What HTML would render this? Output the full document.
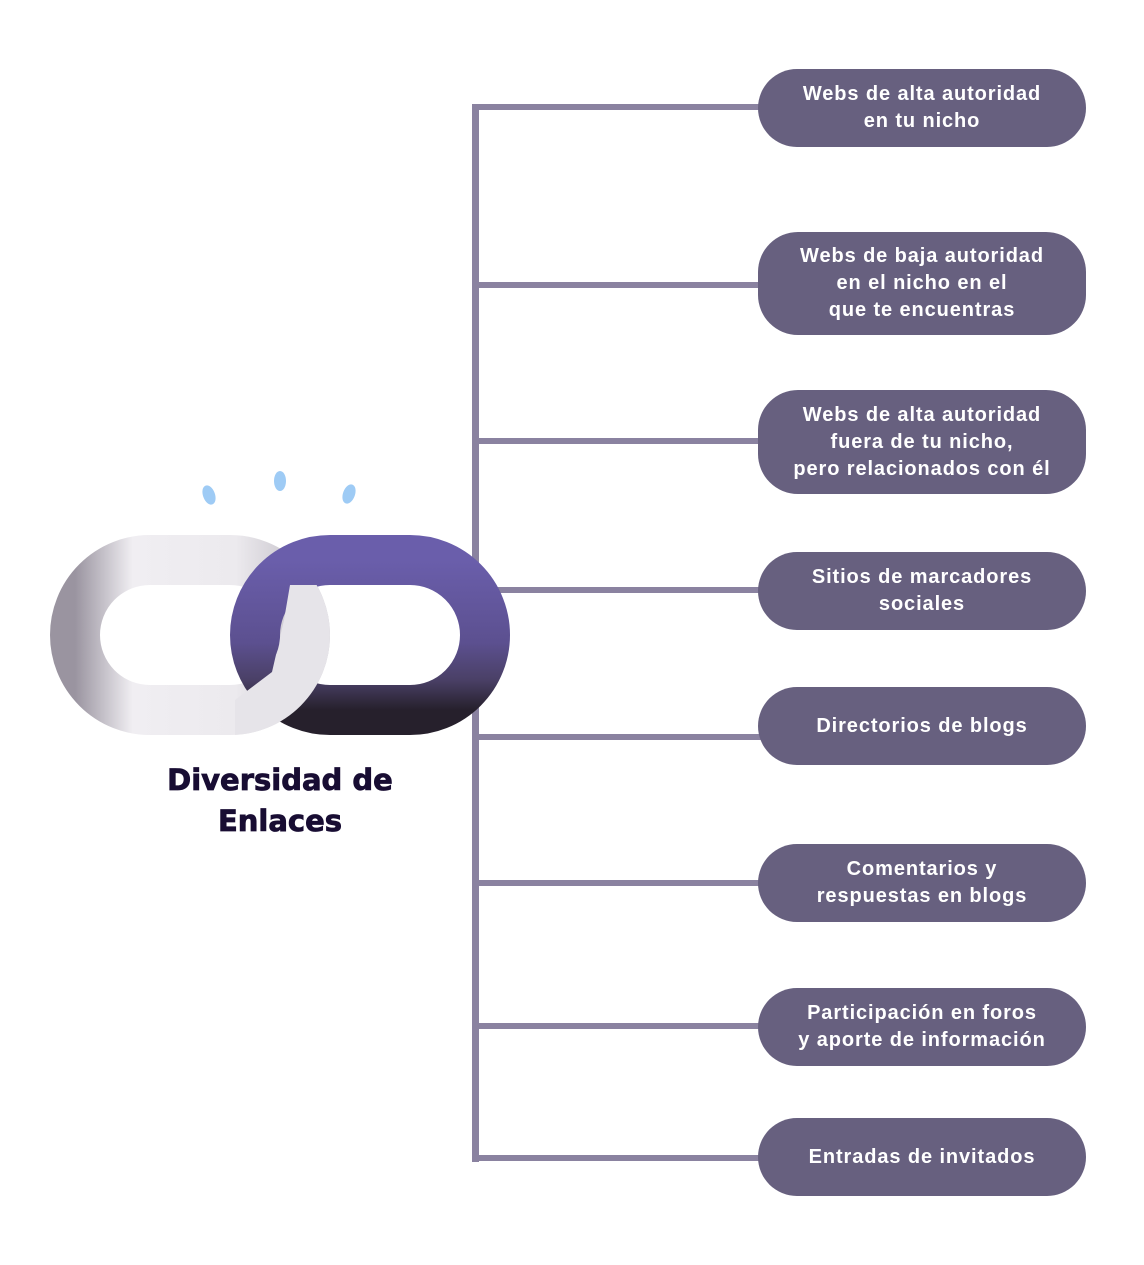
<!DOCTYPE html>
<html><head><meta charset="utf-8"><style>
body{margin:0;width:1144px;height:1265px;background:#fff;position:relative;overflow:hidden;font-family:"Liberation Sans","DejaVu Sans",sans-serif}
.p{position:absolute;left:758px;width:328px;background:#67607f;border-radius:40px;color:#fff;font-weight:bold;font-size:20px;line-height:27px;text-align:center;display:flex;align-items:center;justify-content:center;letter-spacing:0.9px}
.h{position:absolute;left:472px;width:290px;height:6px;background:#8a82a0}
.t{position:absolute;left:130px;width:300px;top:760px;text-align:center;font-family:"DejaVu Sans",sans-serif;font-weight:bold;font-size:29px;line-height:41px;color:#180d33;-webkit-text-stroke:0.8px #180d33}
</style></head><body>
<div style="position:absolute;left:472px;top:104px;width:7px;height:1058px;background:#8a82a0"></div>
<div class="h" style="top:104px"></div>
<div class="h" style="top:282px"></div>
<div class="h" style="top:438px"></div>
<div class="h" style="top:587px"></div>
<div class="h" style="top:734px"></div>
<div class="h" style="top:880px"></div>
<div class="h" style="top:1023px"></div>
<div class="h" style="top:1155px"></div>
<div class="p" style="top:69px;height:78px">Webs de alta autoridad<br>en tu nicho</div>
<div class="p" style="top:232px;height:103px">Webs de baja autoridad<br>en el nicho en el<br>que te encuentras</div>
<div class="p" style="top:390px;height:104px">Webs de alta autoridad<br>fuera de tu nicho,<br>pero relacionados con él</div>
<div class="p" style="top:552px;height:78px">Sitios de marcadores<br>sociales</div>
<div class="p" style="top:687px;height:78px">Directorios de blogs</div>
<div class="p" style="top:844px;height:78px">Comentarios y<br>respuestas en blogs</div>
<div class="p" style="top:988px;height:78px">Participación en foros<br>y aporte de información</div>
<div class="p" style="top:1118px;height:78px">Entradas de invitados</div>
<svg style="position:absolute;left:0;top:0" width="1144" height="1265">
<defs>
<linearGradient id="w" x1="0" y1="0" x2="1" y2="0"><stop offset="0" stop-color="#9a94a0"/><stop offset="0.25" stop-color="#f0eef2"/><stop offset="0.7" stop-color="#eceaee"/><stop offset="1" stop-color="#c4c0c8"/></linearGradient>
<linearGradient id="pu" x1="0" y1="0" x2="0" y2="1"><stop offset="0" stop-color="#6a5eab"/><stop offset="0.55" stop-color="#5c5090"/><stop offset="0.8" stop-color="#4a4066"/><stop offset="1" stop-color="#26202c"/></linearGradient>
<clipPath id="c"><polygon points="290,585 345,585 345,745 235,745 235,700 272,672 284,620"/></clipPath>
</defs>
<rect x="75" y="560" width="230" height="150" rx="75" fill="none" stroke="url(#w)" stroke-width="50"/>
<rect x="255" y="560" width="230" height="150" rx="75" fill="none" stroke="url(#pu)" stroke-width="50"/>
<rect x="75" y="560" width="230" height="150" rx="75" fill="none" stroke="#e6e4e9" stroke-width="50" clip-path="url(#c)"/>
<g fill="#9ecbf5">
<ellipse cx="209" cy="495" rx="6" ry="10" transform="rotate(-20 209 495)"/>
<ellipse cx="280" cy="481" rx="6" ry="10"/>
<ellipse cx="349" cy="494" rx="6" ry="10" transform="rotate(20 349 494)"/>
</g>
</svg>
<div class="t">Diversidad de<br>Enlaces</div>
</body></html>
